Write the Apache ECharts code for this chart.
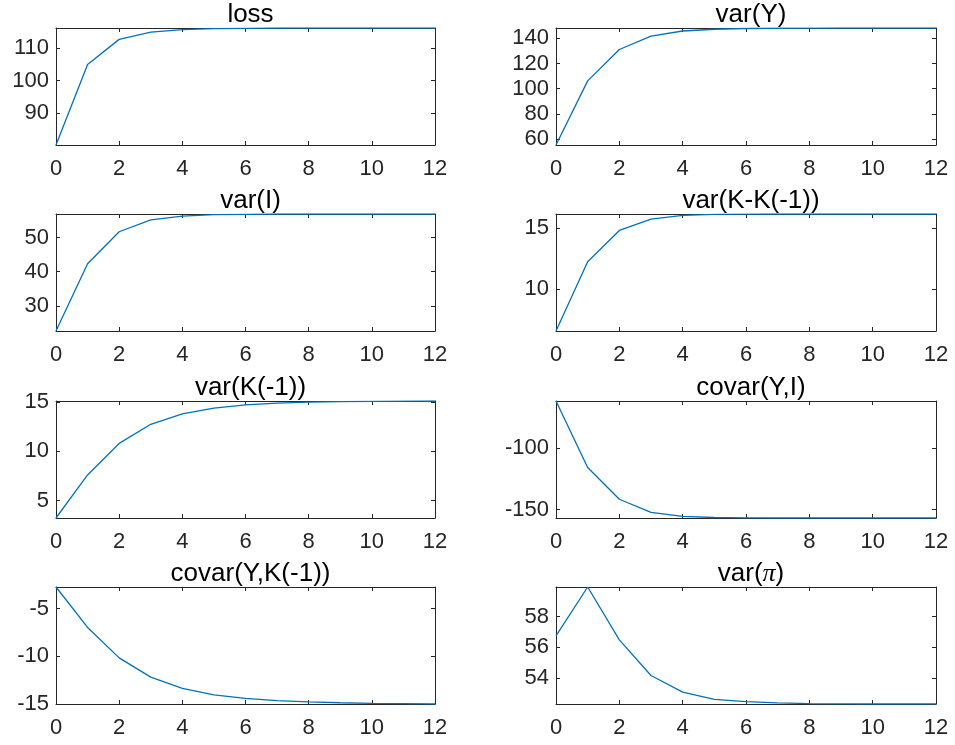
<!DOCTYPE html>
<html>
<head>
<meta charset="utf-8">
<script src="https://cdn.jsdelivr.net/npm/echarts@6/dist/echarts.min.js"></script>
<style>
  html, body { margin: 0; padding: 0; background: #fff; }
  #chart { width: 955px; height: 745px; }
</style>
</head>
<body>
<div id="chart"></div>
<script>
// Horizon (periods 0..12)
const periods = [0, 1, 2, 3, 4, 5, 6, 7, 8, 9, 10, 11, 12];
const xTicks = [0, 2, 4, 6, 8, 10, 12];

// Panel titles
const titles = ['loss', 'var(Y)', 'var(I)', 'var(K-K(-1))', 'var(K(-1))', 'covar(Y,I)', 'covar(Y,K(-1))', 'var({p|π})'];

// Series values per panel
const loss     = [80.2, 105.0, 112.7, 114.9, 115.7, 116.0, 116.1, 116.2, 116.2, 116.2, 116.2, 116.2, 116.2];
const varY     = [55.2, 106.2, 131.2, 141.9, 145.9, 147.3, 147.9, 148.1, 148.2, 148.3, 148.3, 148.3, 148.3];
const varI     = [22.6, 42.3, 51.7, 55.2, 56.3, 56.7, 56.8, 56.9, 56.9, 56.9, 56.9, 56.9, 56.9];
const varDK    = [6.6, 12.25, 14.8, 15.73, 16.03, 16.11, 16.13, 16.14, 16.14, 16.14, 16.14, 16.14, 16.14];
const varKlag  = [3.24, 7.6, 10.8, 12.74, 13.8, 14.37, 14.7, 14.88, 14.98, 15.03, 15.06, 15.08, 15.1];
const covYI    = [-61.9, -115.9, -141.6, -152.2, -155.5, -156.4, -156.7, -156.8, -156.8, -156.8, -156.8, -156.8, -156.8];
const covYKlag = [-2.74, -6.98, -10.17, -12.19, -13.36, -14.06, -14.41, -14.65, -14.79, -14.88, -14.94, -14.98, -15.01];
const varPi    = [56.75, 59.9, 56.49, 54.19, 53.12, 52.65, 52.5, 52.42, 52.38, 52.36, 52.35, 52.35, 52.35];

// Y tick labels per panel
const yTicksLoss    = [90, 100, 110];
const yTicksVarY    = [60, 80, 100, 120, 140];
const yTicksVarI    = [30, 40, 50];
const yTicksVarDK   = [10, 15];
const yTicksVarKlag = [5, 10, 15];
const yTicksCovYI   = [-150, -100];
const yTicksCovYK   = [-15, -10, -5];
const yTicksVarPi   = [54, 56, 58];

const panels = [
  { values: loss,     ticks: yTicksLoss },
  { values: varY,     ticks: yTicksVarY },
  { values: varI,     ticks: yTicksVarI },
  { values: varDK,    ticks: yTicksVarDK },
  { values: varKlag,  ticks: yTicksVarKlag },
  { values: covYI,    ticks: yTicksCovYI },
  { values: covYKlag, ticks: yTicksCovYK },
  { values: varPi,    ticks: yTicksVarPi }
];

const AXIS = '#262626';
const FONT = '"Liberation Sans", Arial, Helvetica, sans-serif';
const colLeft = [56, 556];
const colWidth = [379, 380];
const rowTop = [28, 214, 401, 587];
const rowHeight = 117;

const grids = [], xAxes = [], yAxes = [], series = [], titleList = [];

panels.forEach((p, i) => {
  const col = i % 2, row = Math.floor(i / 2);
  const left = colLeft[col], top = rowTop[row], w = colWidth[col];
  grids.push({ left: left, top: top, width: w, height: rowHeight, containLabel: false });

  const lo = Math.min(...p.values), hi = Math.max(...p.values);
  const lineStyle = { color: AXIS, width: 1 };
  const tickStyle = { color: AXIS, width: 1 };

  // bottom x axis with labels
  xAxes.push({
    type: 'value', gridIndex: i, position: 'bottom', min: 0, max: 12, interval: 2,
    axisLine: { show: true, onZero: false, lineStyle: lineStyle },
    axisTick: { show: true, inside: true, length: 4, lineStyle: tickStyle },
    axisLabel: { show: true, margin: 13, color: AXIS, fontSize: 22, fontFamily: FONT, lineHeight: 22 },
    splitLine: { show: false }
  });
  // top x axis: box edge with ticks
  xAxes.push({
    type: 'value', gridIndex: i, position: 'top', min: 0, max: 12, interval: 2,
    axisLine: { show: true, onZero: false, lineStyle: lineStyle },
    axisTick: { show: true, inside: true, length: 4, lineStyle: tickStyle },
    axisLabel: { show: false },
    splitLine: { show: false }
  });
  // left y axis with labels
  yAxes.push({
    type: 'value', gridIndex: i, position: 'left', min: lo, max: hi,
    axisLine: { show: true, onZero: false, lineStyle: lineStyle },
    axisTick: { show: true, inside: true, length: 4, lineStyle: tickStyle, customValues: p.ticks },
    axisLabel: { show: true, margin: 7, color: AXIS, fontSize: 22, fontFamily: FONT, customValues: p.ticks },
    splitLine: { show: false }
  });
  // right y axis: box edge with ticks
  yAxes.push({
    type: 'value', gridIndex: i, position: 'right', min: lo, max: hi,
    axisLine: { show: true, onZero: false, lineStyle: lineStyle },
    axisTick: { show: true, inside: true, length: 4, lineStyle: tickStyle, customValues: p.ticks },
    axisLabel: { show: false },
    splitLine: { show: false }
  });

  series.push({
    type: 'line', xAxisIndex: 2 * i, yAxisIndex: 2 * i,
    data: periods.map((x, k) => [x, p.values[k]]),
    showSymbol: false, symbol: 'none', silent: true, animation: false,
    lineStyle: { color: '#0072BD', width: 1.3 }
  });

  titleList.push({
    text: titles[i],
    left: left + w / 2, top: top - 31, textAlign: 'center',
    textStyle: {
      color: '#000', fontSize: 26, fontWeight: 'normal', fontFamily: FONT, lineHeight: 26,
      rich: { p: { fontSize: 26, fontStyle: 'italic', fontFamily: '"Liberation Serif", serif', color: '#000', lineHeight: 26 } }
    }
  });
});

const chart = echarts.init(document.getElementById('chart'), null, { renderer: 'canvas' });
chart.setOption({
  backgroundColor: '#fff',
  animation: false,
  title: titleList,
  grid: grids,
  xAxis: xAxes,
  yAxis: yAxes,
  series: series
});
</script>
</body>
</html>
